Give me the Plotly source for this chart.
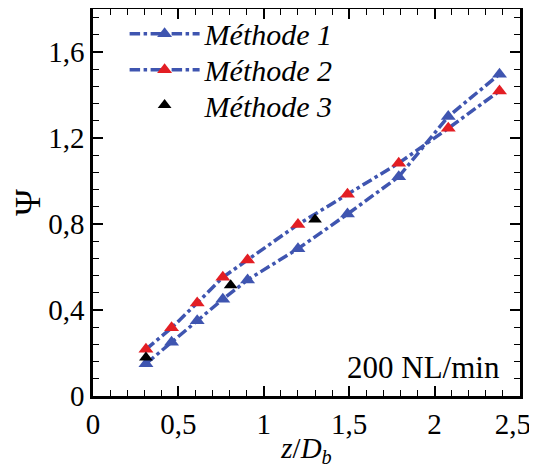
import plotly.graph_objects as go

z_db = [0.31, 0.46, 0.61, 0.76, 0.905, 1.2, 1.49, 1.79, 2.08, 2.38]
psi_m1 = [0.15, 0.25, 0.35, 0.45, 0.54, 0.685, 0.846, 1.02, 1.30, 1.497]
psi_m2 = [0.217, 0.317, 0.433, 0.552, 0.633, 0.798, 0.938, 1.083, 1.245, 1.419]
z_m3 = [0.31, 0.806, 1.30]
psi_m3 = [0.179, 0.515, 0.821]

names = ["Méthode 1", "Méthode 2", "Méthode 3"]
x_tickvals = [0, 0.5, 1, 1.5, 2, 2.5]
x_ticktext = ["0", "0,5", "1", "1,5", "2", "2,5\u00a0\u00a0"]

blue = "#3F55B0"
red = "#E31E24"

fig = go.Figure()
fig.add_trace(go.Scatter(x=z_db, y=psi_m1, mode="lines+markers", name=names[0], legend="legend",
                         line=dict(color=blue, width=3.5, dash="dashdot"),
                         marker=dict(symbol="triangle-up", size=13, color=blue)))
fig.add_trace(go.Scatter(x=z_db, y=psi_m2, mode="lines+markers", name=names[1], legend="legend2",
                         line=dict(color=blue, width=3.5, dash="dashdot"),
                         marker=dict(symbol="triangle-up", size=13, color=red)))
fig.add_trace(go.Scatter(x=z_m3, y=psi_m3, mode="markers", name=names[2], legend="legend3",
                         marker=dict(symbol="triangle-up", size=12, color="black")))

serif = "Liberation Serif"
axis_common = dict(showgrid=False, zeroline=False, showline=True, linecolor="black",
                   linewidth=2.5, mirror="allticks", ticks="inside", tickcolor="black",
                   ticklen=10, tickwidth=2, ticklabeloverflow="allow", automargin=False,
                   tickfont=dict(family=serif, size=29, color="black"))

fig.update_xaxes(range=[0, 2.5], tickmode="array", tickvals=x_tickvals, ticktext=x_ticktext,
                 minor=dict(ticks="inside", dtick=0.1, tick0=0, ticklen=6, tickwidth=1.2, tickcolor="black"),
                 title=dict(text="<i>z</i>/<i>D</i><sub><i>b</i></sub>",
                            font=dict(family=serif, size=29, color="black"), standoff=0),
                 **axis_common)
fig.update_yaxes(range=[0, 1.8], dtick=0.4, tick0=0,
                 minor=dict(ticks="inside", dtick=0.08, ticklen=6, tickwidth=1.2, tickcolor="black"),
                 title=dict(text="Ψ", font=dict(family=serif, size=36, color="black"), standoff=18),
                 **axis_common)

fig.add_annotation(text="200 NL/min", xref="paper", yref="paper", x=0.958, y=0.022,
                   xanchor="right", yanchor="bottom", showarrow=False,
                   font=dict(family=serif, size=31, color="black"))

leg_common = dict(x=0.074, xanchor="left", yanchor="middle", bgcolor="rgba(0,0,0,0)",
                  itemwidth=70, borderwidth=0,
                  font=dict(family=serif, size=30, color="black", style="italic"))

fig.update_layout(
    width=529, height=460,
    margin=dict(l=85, r=17, t=1, b=72, autoexpand=False),
    paper_bgcolor="white", plot_bgcolor="white",
    separators=", ",
    showlegend=True,
    legend=dict(y=0.936, **leg_common),
    legend2=dict(y=0.843, **leg_common),
    legend3=dict(y=0.752, **leg_common),
)

fig.write_html("out.html")
